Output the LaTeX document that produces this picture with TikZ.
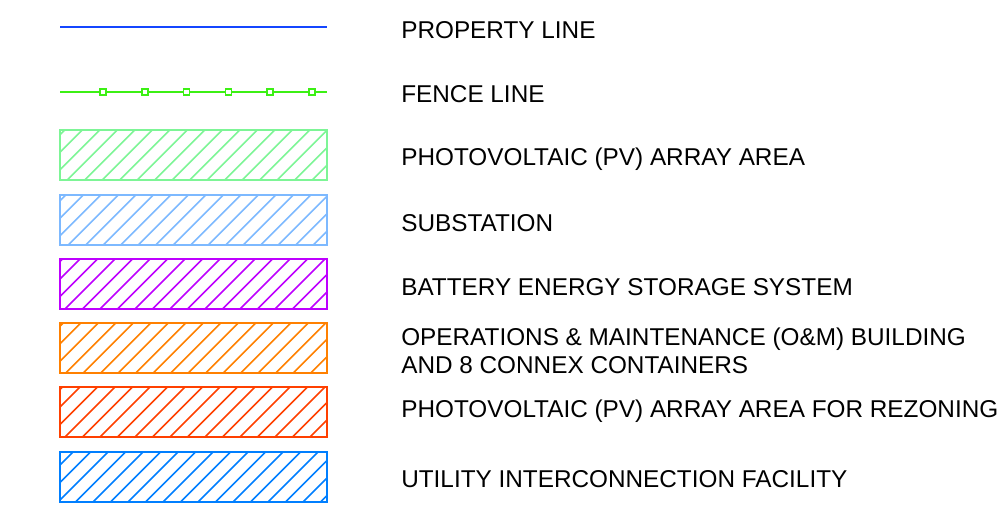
\documentclass[tikz,border=0pt]{standalone}
\usepackage{fontspec}
\setmainfont{Liberation Sans}
\usetikzlibrary{positioning}

\definecolor{propblue}{RGB}{20,70,255}
\definecolor{fencegreen}{RGB}{60,240,20}
\definecolor{pvgreen}{RGB}{125,245,150}
\definecolor{subblue}{RGB}{125,185,255}
\definecolor{bessviolet}{RGB}{190,0,255}
\definecolor{omorange}{RGB}{255,128,0}
\definecolor{rezred}{RGB}{255,64,0}
\definecolor{uifblue}{RGB}{0,127,255}

\begin{document}
\begin{tikzpicture}[
    x=0.025cm,
    y=-0.025cm,
    legendtext/.style={
        anchor=base west,
        inner sep=0pt,
        align=left,
        font=\fontsize{17.3}{20.1}\selectfont
    },
    swatch/.style={line width=1.4pt},
    hatchline/.style={line width=1.1pt},
    fencebox/.style={draw=fencegreen, fill=white, line width=1.2pt}
]
\useasboundingbox (0,0) rectangle (1004,508);

% Property line
\coordinate (prop-w) at (60,27);
\coordinate (prop-e) at (327,27);
\draw[propblue, line width=1.3pt] (prop-w) -- (prop-e);
\node[legendtext] (lbl-prop) at (401,38) {PROPERTY LINE};

% Fence line
\coordinate (fence-w) at (60,92);
\coordinate (fence-e) at (327,92);
\draw[fencegreen, line width=1.3pt] (fence-w) -- (fence-e);
\foreach \i in {0,...,5}
    \draw[fencebox] ({103+41.8*\i-3},89) rectangle +(6,6);
\node[legendtext] (lbl-fence) at (401,102) {FENCE LINE};

% Hatched areas (label base = last line)
\foreach \t/\c/\p/\b/\n/\s in {
    130/pvgreen/82.3/165/pv/{PHOTOVOLTAIC (PV) ARRAY AREA},
    195/subblue/83.3/231.5/sub/{SUBSTATION},
    259/bessviolet/80/295/bess/{BATTERY ENERGY STORAGE SYSTEM},
    323/omorange/80.7/373.3/om/{OPERATIONS \& MAINTENANCE (O\&M) BUILDING\\AND 8 CONNEX CONTAINERS},
    387/rezred/80/417/rez/{PHOTOVOLTAIC (PV) ARRAY AREA FOR REZONING},
    452/uifblue/73/487/uif/{UTILITY INTERCONNECTION FACILITY}}
{
    \coordinate (\n-nw) at (60,\t);
    \coordinate (\n-se) at (327,\t+50);
    \begin{scope}
        \clip (\n-nw) rectangle (\n-se);
        \foreach \k in {-2,...,17}
            \draw[\c, hatchline] ({\p+17.5*\k-50},\t+50) -- ({\p+17.5*\k},\t);
    \end{scope}
    \draw[\c, swatch] (\n-nw) rectangle (\n-se);
    \node[legendtext] (lbl-\n) at (401,\b) {\s};
}

\end{tikzpicture}
\end{document}
